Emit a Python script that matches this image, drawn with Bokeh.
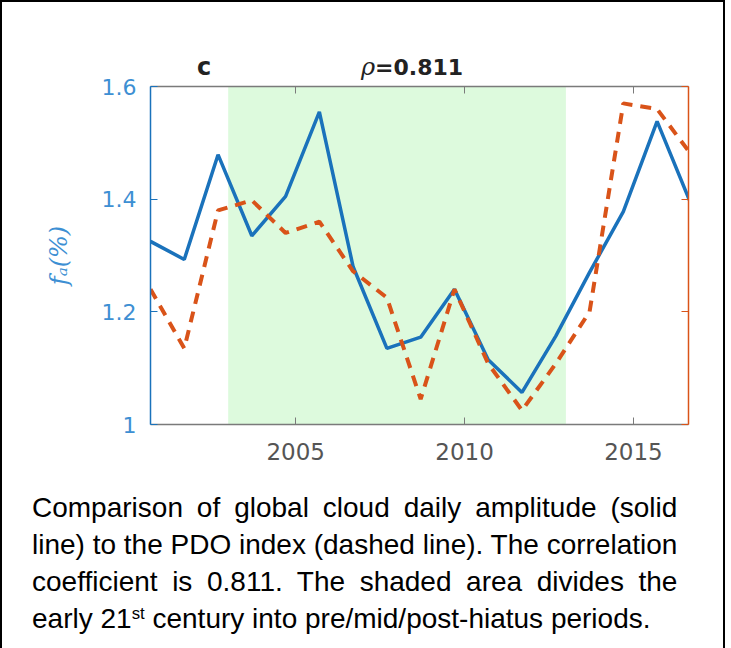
from bokeh.plotting import figure
from bokeh.models import LinearAxis, FixedTicker, BoxAnnotation, Div, Range1d
from bokeh.layouts import column
from bokeh.embed import file_html
from bokeh.resources import INLINE

# ---- data ----
years = [2000.7, 2001.7, 2002.7, 2003.7, 2004.7, 2005.7, 2006.7, 2007.7, 2008.7,
         2009.7, 2010.7, 2011.7, 2012.7, 2013.7, 2014.7, 2015.7, 2016.7]
cloud_amplitude = [1.325, 1.293, 1.479, 1.335, 1.405, 1.555, 1.280, 1.135, 1.155,
                   1.240, 1.115, 1.057, 1.157, 1.270, 1.378, 1.538, 1.392]
pdo_index_scaled = [1.240, 1.135, 1.380, 1.398, 1.340, 1.360, 1.272, 1.225, 1.045,
                    1.240, 1.108, 1.025, 1.108, 1.200, 1.570, 1.560, 1.480]
hiatus_start, hiatus_end = 2003, 2013
x_ticks = [2005, 2010, 2015]
y_ticks = [1.0, 1.2, 1.4, 1.6]
y_tick_labels = ["1", "1.2", "1.4", "1.6"]
x_limits = (2000.7, 2016.63)
y_limits = (1.0, 1.6)
panel_letter = "c"
rho_value = "0.811"

BLUE = "#1a72bb"
BLUE_TXT = "#3d8fd3"
ORANGE = "#D95319"
GRAY = "#7a7a7a"

# ---- heading line (panel letter + correlation) ----
head_html = (
    "<div style='position:relative; width:711px; height:57px; color:#222;'>"
    f"<span style=\"position:absolute; left:190px; top:48px; line-height:24px; font-family:'DejaVu Sans'; font-weight:bold; font-size:24px;\">{panel_letter}</span>"
    "<span style=\"position:absolute; left:354px; top:48px; line-height:24px; white-space:nowrap;\">"
    "<span style=\"font-family:'DejaVu Serif'; font-style:italic; font-size:24px;\">ρ</span>"
    f"<span style=\"font-family:'DejaVu Sans'; font-weight:bold; font-size:22px;\">={rho_value}</span></span>"
    "</div>"
)
head = Div(text=head_html, width=711, height=57, styles={"z-index": "5", "overflow": "visible"})

p = figure(frame_width=538, frame_height=338,
           min_border_left=148, min_border_top=17, min_border_right=25, min_border_bottom=56,
           x_range=Range1d(*x_limits), y_range=Range1d(*y_limits),
           x_axis_location=None, y_axis_location=None,
           output_backend="svg", toolbar_location=None)
p.grid.visible = False
p.outline_line_color = None
p.background_fill_color = "white"
p.border_fill_color = None

p.add_layout(BoxAnnotation(left=hiatus_start, right=hiatus_end, fill_color="#ddfadd",
                           fill_alpha=1.0, line_color=None, level="underlay"))

p.line(years, cloud_amplitude, line_color=BLUE, line_width=3.5)
p.line(years, pdo_index_scaled, line_color=ORANGE, line_width=4, line_dash="11 8")

def style_axis(ax, color, show_labels, label_color=None, size="22px"):
    ax.axis_line_color = color
    ax.axis_line_width = 1.5
    ax.major_tick_line_color = color
    ax.major_tick_in = 7
    ax.major_tick_out = 0
    ax.minor_tick_line_color = None
    if show_labels:
        ax.major_label_text_color = label_color
        ax.major_label_text_font = "DejaVu Sans"
        ax.major_label_text_font_size = size
    else:
        ax.major_label_text_font_size = "0px"
        ax.major_label_text_alpha = 0
        ax.major_label_standoff = 0

left = LinearAxis(ticker=FixedTicker(ticks=y_ticks),
                  major_label_overrides=dict(zip(y_ticks, y_tick_labels)))
style_axis(left, BLUE, True, BLUE_TXT)
left.major_label_standoff = 14
left.axis_label = "fₐ(%)"
left.axis_label_text_font = "DejaVu Serif"
left.axis_label_text_font_style = "italic"
left.axis_label_text_font_size = "24px"
left.axis_label_text_color = BLUE_TXT
left.axis_label_standoff = 26
p.add_layout(left, "left")

right = LinearAxis(ticker=FixedTicker(ticks=y_ticks))
style_axis(right, ORANGE, False)
p.add_layout(right, "right")

bottom = LinearAxis(ticker=FixedTicker(ticks=x_ticks))
style_axis(bottom, GRAY, True, "#555555", "23px")
bottom.major_label_standoff = 18
p.add_layout(bottom, "below")

top = LinearAxis(ticker=FixedTicker(ticks=x_ticks))
style_axis(top, GRAY, False)
p.add_layout(top, "above")

caption_lines = [
    "Comparison of global cloud daily amplitude (solid",
    "line) to the PDO index (dashed line). The correlation",
    "coefficient is 0.811. The shaded area divides the",
    "early 21<span style='position:relative; top:-0.55em; font-size:60%; line-height:0'>st</span> century into pre/mid/post-hiatus periods.",
]
html = "<div style=\"padding:4px 8px 0 25px; font-family:'Liberation Sans', Arial, sans-serif; font-size:28px; line-height:37px; color:#000;\">"
for i, ln in enumerate(caption_lines):
    if i < len(caption_lines) - 1:
        html += f"<div style='text-align:justify; text-align-last:justify; white-space:nowrap'>{ln}</div>"
    else:
        html += f"<div style='text-align:left; white-space:nowrap'>{ln}</div>"
html += "</div>"
cap = Div(text=html, width=711, height=160)

layout = column(head, p, cap, styles={"border": "2px solid black", "border-bottom": "none",
                                      "background-color": "white"})

open("out.html", "w").write(file_html(layout, INLINE))
